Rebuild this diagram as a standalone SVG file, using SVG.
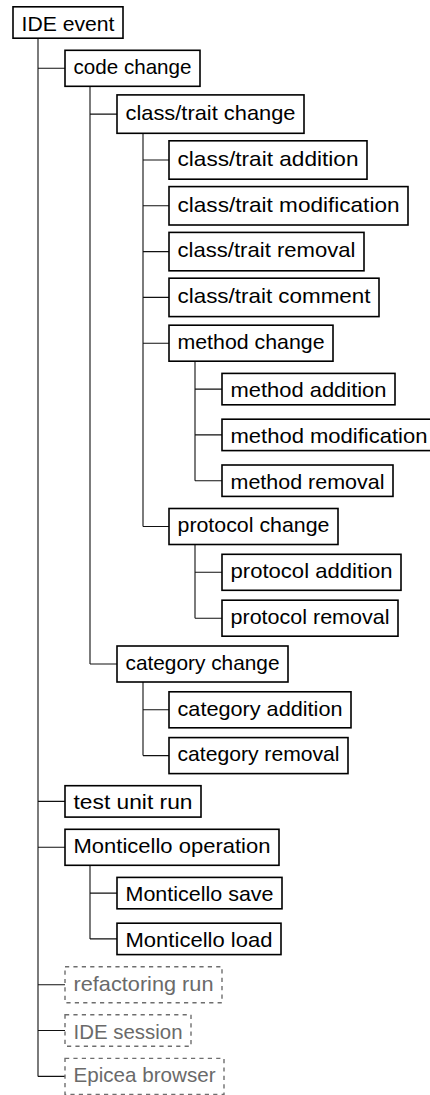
<svg xmlns="http://www.w3.org/2000/svg" width="430" height="1095" viewBox="0 0 430 1095">
<style>
.box{fill:#fff;stroke:#000;stroke-width:1.6}
.dbox{fill:#fff;stroke:#6e6e6e;stroke-width:1.4;stroke-dasharray:4.2 4.2}
.t{font-family:"Liberation Sans",Arial,sans-serif;font-size:21px;fill:#000}
.g{fill:#6a6a6a}
.c{fill:none;stroke:#111;stroke-width:1.1}
</style>
<rect width="430" height="1095" fill="#fff"/>
<g id="connectors" class="c">
<path d="M38,38.2V1076.4 M38,68.3H65 M38,801.4H65 M38,847.3H65 M38,984.7H65 M38,1030.5H65 M38,1076.4H65"/>
<path d="M90,86.3V664 M90,114.1H117 M90,664H117"/>
<path d="M143,133.3V526.5 M143,160H169 M143,205.8H169 M143,251.6H169 M143,297.4H169 M143,343.2H169 M143,526.5H169"/>
<path d="M195,361.2V480.7 M195,389.1H222 M195,434.9H222 M195,480.7H222"/>
<path d="M195,544.5V618.2 M195,572.3H222 M195,618.2H222"/>
<path d="M143,682V755.6 M143,709.8H169 M143,755.6H169"/>
<path d="M90,865.3V938.9 M90,893.1H117 M90,938.9H117"/>
</g>
<g id="n0"><rect class="box" x="13" y="6.8" width="110" height="31.4"/><text class="t" x="21.5" y="30.5" textLength="93" lengthAdjust="spacingAndGlyphs">IDE event</text></g>
<g id="n1"><rect class="box" x="65" y="50.3" width="135" height="36"/><text class="t" x="73.5" y="74.1" textLength="118" lengthAdjust="spacingAndGlyphs">code change</text></g>
<g id="n2"><rect class="box" x="117" y="94.9" width="187" height="38.4"/><text class="t" x="125.5" y="119.9" textLength="170" lengthAdjust="spacingAndGlyphs">class/trait change</text></g>
<g id="n3"><rect class="box" x="169" y="140.8" width="198" height="38.4"/><text class="t" x="177.5" y="165.8" textLength="181" lengthAdjust="spacingAndGlyphs">class/trait addition</text></g>
<g id="n4"><rect class="box" x="169" y="186.6" width="239" height="38.4"/><text class="t" x="177.5" y="211.6" textLength="222" lengthAdjust="spacingAndGlyphs">class/trait modification</text></g>
<g id="n5"><rect class="box" x="169" y="232.4" width="195" height="38.4"/><text class="t" x="177.5" y="257.4" textLength="178" lengthAdjust="spacingAndGlyphs">class/trait removal</text></g>
<g id="n6"><rect class="box" x="169" y="278.2" width="210" height="38.4"/><text class="t" x="177.5" y="303.2" textLength="193" lengthAdjust="spacingAndGlyphs">class/trait comment</text></g>
<g id="n7"><rect class="box" x="169" y="325.2" width="164" height="36"/><text class="t" x="177.5" y="349" textLength="147" lengthAdjust="spacingAndGlyphs">method change</text></g>
<g id="n8"><rect class="box" x="222" y="373.4" width="173" height="31.4"/><text class="t" x="230.5" y="397.1" textLength="156" lengthAdjust="spacingAndGlyphs">method addition</text></g>
<g id="n9"><rect class="box" x="222" y="419.2" width="213.5" height="31.4"/><text class="t" x="230.5" y="442.9" textLength="197" lengthAdjust="spacingAndGlyphs">method modification</text></g>
<g id="n10"><rect class="box" x="222" y="465" width="171" height="31.4"/><text class="t" x="230.5" y="488.7" textLength="154" lengthAdjust="spacingAndGlyphs">method removal</text></g>
<g id="n11"><rect class="box" x="169" y="508.5" width="169" height="36"/><text class="t" x="177.5" y="532.3" textLength="152" lengthAdjust="spacingAndGlyphs">protocol change</text></g>
<g id="n12"><rect class="box" x="222" y="554.3" width="179" height="36"/><text class="t" x="230.5" y="578.1" textLength="162" lengthAdjust="spacingAndGlyphs">protocol addition</text></g>
<g id="n13"><rect class="box" x="222" y="600.2" width="176" height="36"/><text class="t" x="230.5" y="624" textLength="159" lengthAdjust="spacingAndGlyphs">protocol removal</text></g>
<g id="n14"><rect class="box" x="117" y="646" width="171" height="36"/><text class="t" x="125.5" y="669.8" textLength="154" lengthAdjust="spacingAndGlyphs">category change</text></g>
<g id="n15"><rect class="box" x="169" y="691.8" width="182" height="36"/><text class="t" x="177.5" y="715.6" textLength="165" lengthAdjust="spacingAndGlyphs">category addition</text></g>
<g id="n16"><rect class="box" x="169" y="737.6" width="179" height="36"/><text class="t" x="177.5" y="761.4" textLength="162" lengthAdjust="spacingAndGlyphs">category removal</text></g>
<g id="n17"><rect class="box" x="65" y="785.7" width="136" height="31.4"/><text class="t" x="73.5" y="809.4" textLength="119" lengthAdjust="spacingAndGlyphs">test unit run</text></g>
<g id="n18"><rect class="box" x="65" y="829.3" width="214" height="36"/><text class="t" x="73.5" y="853.1" textLength="197" lengthAdjust="spacingAndGlyphs">Monticello operation</text></g>
<g id="n19"><rect class="box" x="117" y="877.4" width="165" height="31.4"/><text class="t" x="125.5" y="901.1" textLength="148" lengthAdjust="spacingAndGlyphs">Monticello save</text></g>
<g id="n20"><rect class="box" x="117" y="923.2" width="164" height="31.4"/><text class="t" x="125.5" y="946.9" textLength="147" lengthAdjust="spacingAndGlyphs">Monticello load</text></g>
<g id="n21"><rect class="dbox" x="65" y="966.7" width="157" height="36"/><text class="t g" x="73.5" y="990.5" textLength="140" lengthAdjust="spacingAndGlyphs">refactoring run</text></g>
<g id="n22"><rect class="dbox" x="65" y="1014.8" width="126" height="31.4"/><text class="t g" x="73.5" y="1038.5" textLength="109" lengthAdjust="spacingAndGlyphs">IDE session</text></g>
<g id="n23"><rect class="dbox" x="65" y="1058.4" width="159" height="36"/><text class="t g" x="73.5" y="1082.2" textLength="142" lengthAdjust="spacingAndGlyphs">Epicea browser</text></g>
</svg>
